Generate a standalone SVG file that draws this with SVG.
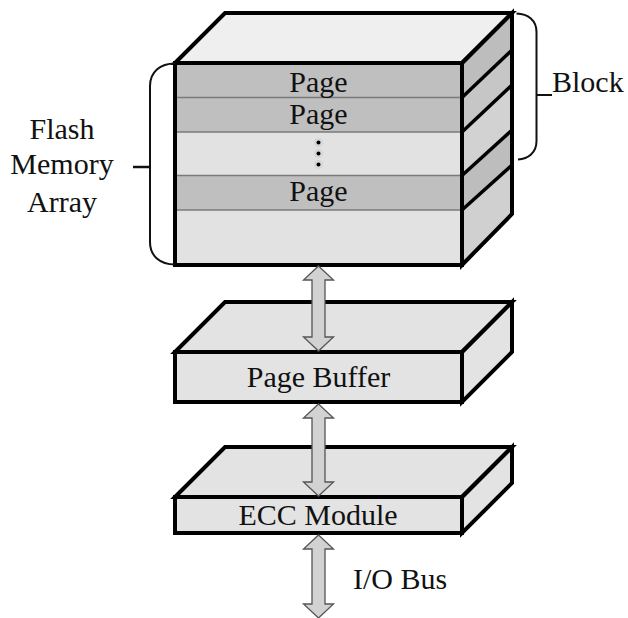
<svg xmlns="http://www.w3.org/2000/svg" width="628" height="618" viewBox="0 0 628 618">
<style>
text{font-family:'Liberation Serif','Tinos','Times New Roman','DejaVu Serif',serif;font-size:30px;fill:#111}
.c{text-anchor:middle}
.edge{fill:none;stroke:#000;stroke-width:4;stroke-linejoin:miter}
.div{stroke:#7a7a7a;stroke-width:1.5}
.brace{fill:none;stroke:#111;stroke-width:2}
.arrow{fill:#d2d2d2;stroke:#555;stroke-width:1.3}
</style>
<rect width="628" height="618" fill="#fff"/>

<g id="flash-array">
  <polygon points="175,63 225,13 512,13 462,63" fill="#efefef"/>
  <rect x="175" y="63" width="287" height="202" fill="#e2e2e2"/>
  <rect x="175" y="63" width="287" height="34.5" fill="#bfbfbf"/>
  <rect x="175" y="97.5" width="287" height="34.5" fill="#bfbfbf"/>
  <rect x="175" y="175.5" width="287" height="34.5" fill="#bfbfbf"/>
  <polygon points="462,63 512,13 512,50 462,97.5" fill="#bdbdbd"/>
  <polygon points="462,97.5 512,50 512,85 462,132" fill="#c6c6c6"/>
  <polygon points="462,132 512,85 512,130 462,175.5" fill="#d2d2d2"/>
  <polygon points="462,175.5 512,130 512,165 462,210" fill="#bdbdbd"/>
  <polygon points="462,210 512,165 512,214 462,265" fill="#d0d0d0"/>
  <line class="div" x1="175" y1="97.5" x2="462" y2="97.5"/>
  <line class="div" x1="175" y1="132" x2="462" y2="132"/>
  <line class="div" x1="175" y1="175.5" x2="462" y2="175.5"/>
  <line class="div" x1="175" y1="210" x2="462" y2="210"/>
  <g stroke="#000" stroke-width="3.5">
    <line x1="462" y1="97.5" x2="512" y2="50"/>
    <line x1="462" y1="132" x2="512" y2="85"/>
    <line x1="462" y1="175.5" x2="512" y2="130"/>
    <line x1="462" y1="210" x2="512" y2="165"/>
  </g>
  <polygon class="edge" points="175,63 225,13 512,13 462,63"/>
  <rect class="edge" x="175" y="63" width="287" height="202"/>
  <polygon class="edge" points="462,63 512,13 512,214 462,265"/>
  <text class="c" x="318.5" y="91.5">Page</text>
  <text class="c" x="318.5" y="123.5">Page</text>
  <circle cx="318.5" cy="142.5" r="4.5" fill="#d6d6d6"/>
  <circle cx="318.5" cy="153.5" r="4.5" fill="#d6d6d6"/>
  <circle cx="318.5" cy="164.5" r="4.5" fill="#d6d6d6"/>
  <circle cx="318.5" cy="142.5" r="2" fill="#000"/>
  <circle cx="318.5" cy="153.5" r="2" fill="#000"/>
  <circle cx="318.5" cy="164.5" r="2" fill="#000"/>
  <text class="c" x="318.5" y="201">Page</text>
</g>

<g id="block-label">
  <path class="brace" d="M516.5,13.5 C528,14 536.5,20 536.5,32 L536.5,141 C536.5,153 528,159 518,159.5"/>
  <line class="brace" x1="536.5" y1="95" x2="552" y2="95"/>
  <text x="552" y="92">Block</text>
</g>

<g id="flash-label">
  <path class="brace" d="M175,63.5 C160,63.5 150,72 150,86 L150,242 C150,256 160,264.5 175,264.5"/>
  <line x1="133" y1="167" x2="150" y2="167" stroke="#111" stroke-width="2.5"/>
  <text class="c" x="62" y="138.5">Flash</text>
  <text class="c" x="62" y="174">Memory</text>
  <text class="c" x="62" y="211.5">Array</text>
</g>

<g id="page-buffer">
  <polygon points="175,352 225,302 512,302 462,352" fill="#e3e3e3"/>
  <rect x="175" y="352" width="287" height="50" fill="#e3e3e3"/>
  <polygon points="462,352 512,302 512,352 462,402" fill="#e3e3e3"/>
  <polygon class="edge" points="175,352 225,302 512,302 462,352"/>
  <rect class="edge" x="175" y="352" width="287" height="50"/>
  <polygon class="edge" points="462,352 512,302 512,352 462,402"/>
  <text class="c" x="318.5" y="387">Page Buffer</text>
</g>

<g id="ecc-module">
  <polygon points="175,497 225,447 512,447 462,497" fill="#e3e3e3"/>
  <rect x="175" y="497" width="287" height="36" fill="#e3e3e3"/>
  <polygon points="462,497 512,447 512,483 462,533" fill="#e3e3e3"/>
  <polygon class="edge" points="175,497 225,447 512,447 462,497"/>
  <rect class="edge" x="175" y="497" width="287" height="36"/>
  <polygon class="edge" points="462,497 512,447 512,483 462,533"/>
  <text class="c" x="318" y="525">ECC Module</text>
</g>

<g id="connectors">
  <path class="arrow" d="M318.5,266 L333.5,280 L325,280 L325,337 L333.5,337 L318.5,351 L303.5,337 L312,337 L312,280 L303.5,280 Z"/>
  <path class="arrow" d="M318.5,404 L333.5,418 L325,418 L325,482 L333.5,482 L318.5,496 L303.5,482 L312,482 L312,418 L303.5,418 Z"/>
  <path class="arrow" d="M318.5,535 L333.5,549 L325,549 L325,604 L333.5,604 L318.5,618 L303.5,604 L312,604 L312,549 L303.5,549 Z"/>
  <text x="353" y="588.5">I/O Bus</text>
</g>
</svg>
